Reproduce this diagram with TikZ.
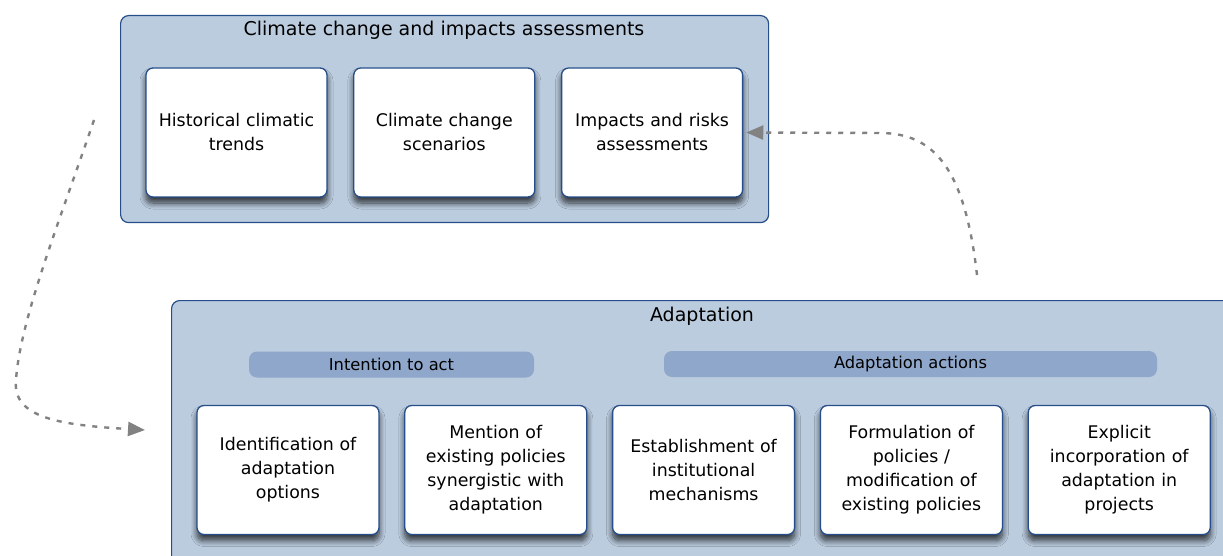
\documentclass[tikz,border=0pt]{standalone}
\usepackage{fontspec}
\setmainfont{DejaVu Sans}
\usetikzlibrary{positioning,arrows.meta,shadows.blur}

\definecolor{panelfill}{RGB}{187,204,223}
\definecolor{panelline}{RGB}{38,78,138}
\definecolor{barfill}{RGB}{143,167,203}
\definecolor{linkgray}{RGB}{130,130,130}

\tikzset{panel/.style={draw=panelline, fill=panelfill, line width=1.2pt, rounded corners=8pt}}
\tikzset{box/.style={draw=panelline, fill=white, line width=1.3pt, rounded corners=7pt, minimum width=181pt, minimum height=129pt, text width=172pt, align=center, font=\fontsize{17.4}{24}\selectfont, blur shadow={shadow xshift=0pt, shadow yshift=-6pt, shadow blur radius=6pt, shadow blur steps=10, shadow opacity=75}}}
\tikzset{bar/.style={fill=barfill, rounded corners=8pt, minimum height=26pt, font=\fontsize{16.3}{20}\selectfont}}
\tikzset{head/.style={font=\fontsize{19}{23}\selectfont}}
\tikzset{link/.style={draw=linkgray, line width=2.4pt, dash pattern=on 5pt off 7pt, -{Triangle[length=17pt,width=14pt]}}}

\begin{document}
\begin{tikzpicture}[x=1pt, y=-1pt]
    \useasboundingbox (0,0) rectangle (1223,556);

    % panels
    \node[panel, anchor=north west, minimum width=648pt, minimum height=207pt] (cca) at (120,15) {};
    \node[panel, anchor=north west, minimum width=1062pt, minimum height=275pt] (adapt) at (171,300) {};
    \node[head] (ccatitle) at (444,30) {Climate change and impacts assessments};
    \node[head] (adapttitle) at (702,316) {Adaptation};

    % assessments
    \node[box] (hist) at (236.5,132.5) {Historical climatic\\trends};
    \node[box] (scen) [right=25.5pt of hist] {Climate change\\scenarios};
    \node[box] (risk) [right=25.5pt of scen] {Impacts and risks\\assessments};

    % adaptation
    \node[bar, minimum width=285pt] (intent) at (391.5,364.5) {Intention to act};
    \node[bar, minimum width=493pt] (actions) at (910.5,364) {Adaptation actions};

    \node[box, minimum width=182pt] (ident) at (288,470) {Identification of\\adaptation\\options};
    \node[box, minimum width=182pt] (mention) [right=24.5pt of ident] {Mention of\\existing policies\\synergistic with\\adaptation};
    \node[box, minimum width=182pt] (estab) [right=24.5pt of mention] {Establishment of\\institutional\\mechanisms};
    \node[box, minimum width=182pt] (formul) [right=24.5pt of estab] {Formulation of\\policies /\\modification of\\existing policies};
    \node[box, minimum width=182pt] (explic) [right=24.5pt of formul] {Explicit\\incorporation of\\adaptation in\\projects};

    % feedback links
    \coordinate (lstart) at (94,120);
    \coordinate (lend) at (145,430);
    \coordinate (rstart) at (977,275);
    \coordinate (rend) at ([xshift=3pt]risk.east);

    \draw[link] (lstart) .. controls (60,220) and (20,320) .. (16,380) .. controls (12,418) and (60,425) .. (lend);
    \draw[link] (rstart) .. controls (965,170) and (935,133) .. (880,133) -- (rend);
\end{tikzpicture}
\end{document}
